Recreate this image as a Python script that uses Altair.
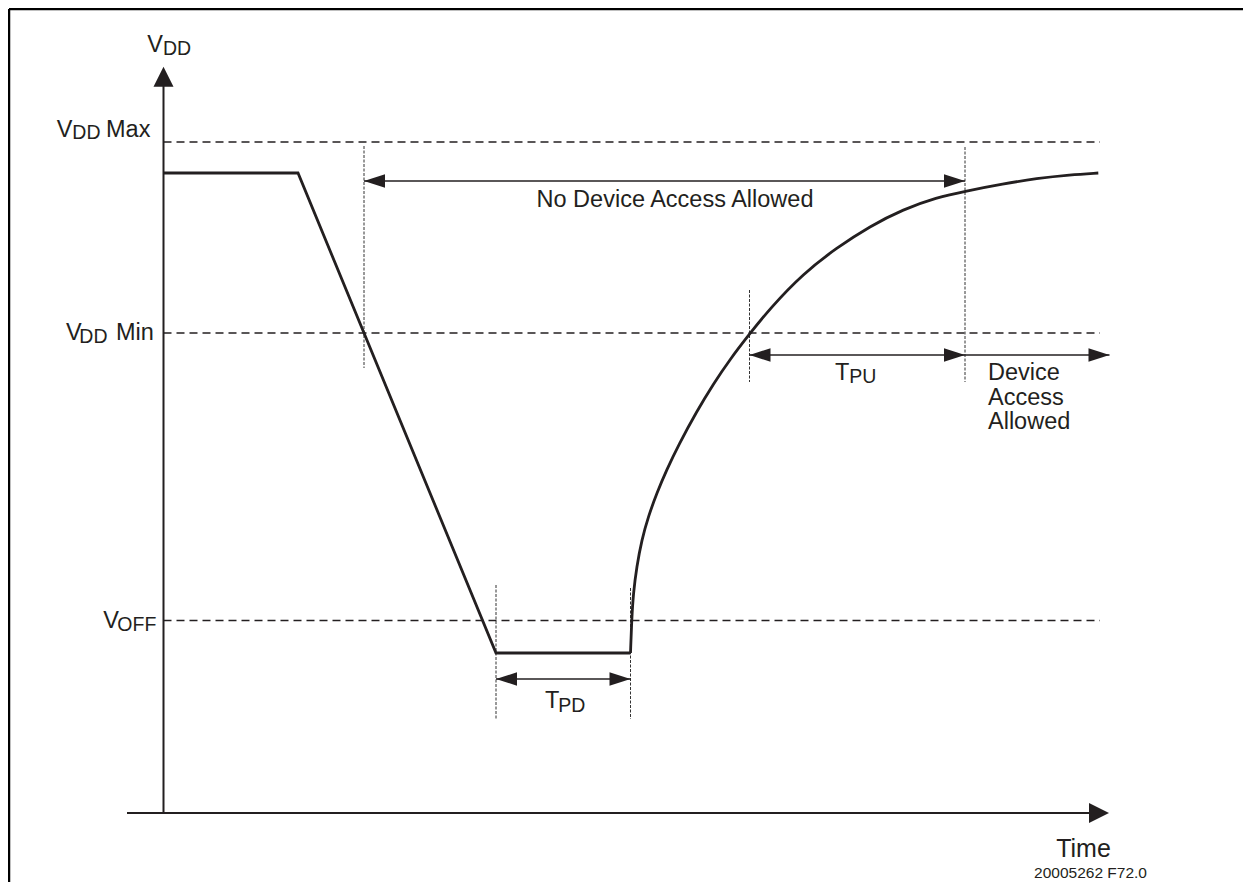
import altair as alt
import pandas as pd

# ---------------- data (time t, voltage v in diagram units) ----------------
INK = "#231f20"
FONT = "Liberation Sans"

# reference voltage levels (dashed)
LEVEL_NAMES = ["VDD Max", "VDD Min", "VOFF"]
LEVEL_V = [671, 480, 192.5]
LEVEL_T_END = 936.5

# supply waveform: straight power-down part
DOWN_T = [0, 134.5, 332.5, 467]
DOWN_V = [640, 640, 160, 160]

# supply waveform: power-up curve
UP_T = [467, 468.2, 469.8, 473.2, 478.2, 484.8, 493.2, 503.2, 514.8, 533.2,
        549.8, 566.5, 586, 606.5, 639.8, 673.2, 706.5, 739.8, 773.2, 801.5,
        839.8, 873.2, 906.5, 934.8]
UP_V = [160, 193, 219.7, 246.3, 273, 296.3, 319.7, 343.2, 367.6, 401.6,
        429, 453.7, 479, 504.6, 539.6, 565.2, 586.8, 603.7, 615.5, 621.8,
        629.2, 634.6, 638.2, 640]

# thin extension (witness) lines
EXT_T = [200.5, 801.5, 586, 332.5, 467]
EXT_V0 = [667, 666, 523, 228, 225]
EXT_V1 = [445, 431, 431, 93, 94]

# dimension arrows
DIM_NAMES = ["No Device Access Allowed", "TPU", "Device Access Allowed", "TPD"]
DIM_T0 = [200.5, 586, 801.5, 332.5]
DIM_T1 = [801.5, 801.5, 946, 467]
DIM_V = [632, 458, 458, 134]
DIM_LEFT_HEAD = [True, True, False, True]

# axes
VAXIS_T = 0
VAXIS_TOP = 746.3
TAXIS_V = 0
TAXIS_LEFT = -36.5
TAXIS_TIP = 945.5

# frame
FRAME_LEFT_T = -154.5
FRAME_TOP_V = 804
FRAME_RIGHT_T = 1079.5
FRAME_BOTTOM_V = -69

# text pieces (left aligned): text, t, v(baseline), font size
TXT_L = ["V", "DD", "V", "DD", "Max", "V", "DD", "Min", "V", "OFF",
         "T", "PU", "Device", "Access", "Allowed", "T", "PD"]
TXT_L_T = [-16.2, -0.6, -106.8, -91.2, -57.5, -97.5, -84.2, -47.5, -60.2, -46.2,
           671.5, 685.8, 824.5, 824.5, 824.5, 381.5, 394.8]
TXT_L_V = [761.3, 758.5, 676.3, 674, 676.3, 473, 470.3, 473, 184.7, 182,
           433, 429.7, 433, 408.5, 384, 104.7, 101.3]
TXT_L_SIZE = [23.5, 19.5, 23.5, 19.5, 23.5, 23.5, 19.5, 23.5, 23.5, 19.5,
              23.5, 19.5, 23.5, 23.5, 23.5, 23.5, 19.5]

# centred text
TXT_C = ["No Device Access Allowed", "Time", "20005262 F72.0"]
TXT_C_T = [511.5, 920, 927]
TXT_C_V = [605.7, -43.7, -65.3]
TXT_C_SIZE = [23.5, 25, 15.5]

# ---------------- scales ----------------
W, H = 1235, 874
xs = alt.Scale(domain=[-155.5, 1079.5], nice=False, zero=False)
ys = alt.Scale(domain=[-69, 805], nice=False, zero=False)


def X(f):
    return alt.X(f, type="quantitative", scale=xs, axis=None)


def Y(f):
    return alt.Y(f, type="quantitative", scale=ys, axis=None)


def seg_layer(df, color=INK, **mark):
    return alt.Chart(df).mark_rule(color=color, **mark).encode(
        x=X("t"), x2=alt.X2("t2"), y=Y("v"), y2=alt.Y2("v2"))


# frame (top and left lines)
frame_df = pd.DataFrame({
    "t": [FRAME_LEFT_T, FRAME_LEFT_T],
    "t2": [FRAME_RIGHT_T, FRAME_LEFT_T],
    "v": [FRAME_TOP_V, FRAME_TOP_V],
    "v2": [FRAME_TOP_V, FRAME_BOTTOM_V],
})
frame = seg_layer(frame_df, color="#000000", strokeWidth=2.5)

# axes lines
axes_df = pd.DataFrame({
    "t": [VAXIS_T, TAXIS_LEFT],
    "t2": [VAXIS_T, TAXIS_TIP - 18],
    "v": [TAXIS_V, TAXIS_V],
    "v2": [VAXIS_TOP - 18, TAXIS_V],
})
axes = seg_layer(axes_df, strokeWidth=2)

# dashed level lines
lev_df = pd.DataFrame({"name": LEVEL_NAMES, "v": LEVEL_V})
lev_df["t"] = 0
lev_df["t2"] = LEVEL_T_END
lev_df["v2"] = lev_df["v"]
levels = seg_layer(lev_df, strokeWidth=1.4, strokeDash=[8, 5])

# witness lines
ext_df = pd.DataFrame({"t": EXT_T, "v": EXT_V0, "v2": EXT_V1})
ext_df["t2"] = ext_df["t"]
ext = seg_layer(ext_df, color="#333333", strokeWidth=1, strokeDash=[3, 1.5])

# dimension arrow shafts
dim_df = pd.DataFrame({"name": DIM_NAMES, "t": DIM_T0, "t2": DIM_T1, "v": DIM_V})
dim_df["v2"] = dim_df["v"]
dims = seg_layer(dim_df, strokeWidth=1.5)

# waveform
down_df = pd.DataFrame({"t": DOWN_T, "v": DOWN_V, "i": range(len(DOWN_T))})
wave_down = alt.Chart(down_df).mark_line(
    color=INK, strokeWidth=2.8, interpolate="linear", strokeJoin="miter",
    strokeCap="butt"
).encode(x=X("t"), y=Y("v"), order="i:Q")

up_df = pd.DataFrame({"t": UP_T, "v": UP_V, "i": range(len(UP_T))})
wave_up = alt.Chart(up_df).mark_line(
    color=INK, strokeWidth=2.8, interpolate="basis", strokeCap="butt"
).encode(x=X("t"), y=Y("v"), order="i:Q")

# arrow heads
heads_t, heads_v, heads_a = [], [], []
for t0, t1, v, lh in zip(DIM_T0, DIM_T1, DIM_V, DIM_LEFT_HEAD):
    heads_t.append(t1); heads_v.append(v); heads_a.append(0)
    if lh:
        heads_t.append(t0); heads_v.append(v); heads_a.append(180)
small_heads_df = pd.DataFrame({"t": heads_t, "v": heads_v, "a": heads_a})
SMALL_PATH = "M0,0L-2,-0.64L-2,0.64Z"
small_heads = alt.Chart(small_heads_df).mark_point(
    shape=SMALL_PATH, filled=True, color=INK, opacity=1, size=441, strokeWidth=0
).encode(x=X("t"), y=Y("v"), angle=alt.Angle("a:Q", scale=None))

big_heads_df = pd.DataFrame({"t": [VAXIS_T, TAXIS_TIP], "v": [VAXIS_TOP, TAXIS_V],
                             "a": [270, 0]})
BIG_PATH = "M0,0L-2,-1L-2,1Z"
big_heads = alt.Chart(big_heads_df).mark_point(
    shape=BIG_PATH, filled=True, color=INK, opacity=1, size=400, strokeWidth=0
).encode(x=X("t"), y=Y("v"), angle=alt.Angle("a:Q", scale=None))

# texts
tl_df = pd.DataFrame({"txt": TXT_L, "t": TXT_L_T, "v": TXT_L_V, "s": TXT_L_SIZE})
text_left = alt.Chart(tl_df).mark_text(
    align="left", baseline="alphabetic", font=FONT, color=INK
).encode(x=X("t"), y=Y("v"), text="txt:N", size=alt.Size("s:Q", scale=None))

tc_df = pd.DataFrame({"txt": TXT_C, "t": TXT_C_T, "v": TXT_C_V, "s": TXT_C_SIZE})
text_center = alt.Chart(tc_df).mark_text(
    align="center", baseline="alphabetic", font=FONT, color=INK
).encode(x=X("t"), y=Y("v"), text="txt:N", size=alt.Size("s:Q", scale=None))

chart = alt.layer(
    frame, levels, ext, axes, dims, wave_down, wave_up, small_heads, big_heads,
    text_left, text_center
).properties(
    width=W, height=H, autosize=alt.AutoSizeParams(type="none"), padding=0,
    background="white"
).configure_view(stroke=None)

chart.save("out.html", embed_options={"renderer": "svg", "actions": False})
